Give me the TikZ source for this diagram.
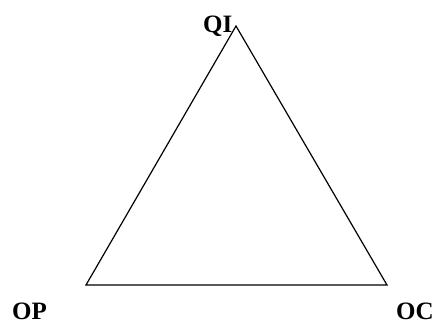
\documentclass[tikz,border=0pt]{standalone}
\usepackage{fontspec}
\setmainfont{Liberation Serif}
\begin{document}
\begin{tikzpicture}[x=1pt,y=-1pt,
  lbl/.style={anchor=base west,inner sep=0pt,font=\fontsize{25}{28}\selectfont\bfseries},
  edge/.style={draw=black,line width=1.2pt,line join=miter}]
\useasboundingbox (0,0) rectangle (437,324);
\coordinate (top) at (236,26);
\coordinate (bl) at (86,285);
\coordinate (br) at (387,285);
\draw[edge] (top) -- (bl) -- (br) -- cycle;
\node[lbl] (qi) at (203,32) {QI};
\node[lbl] (op) at (12,319) {OP};
\node[lbl] (oc) at (396,319) {OC};
\end{tikzpicture}
\end{document}
